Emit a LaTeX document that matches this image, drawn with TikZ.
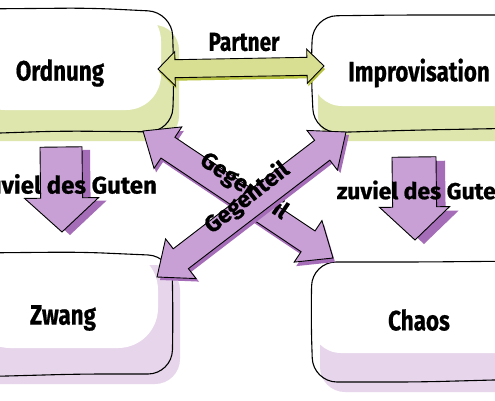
\documentclass[tikz,border=0pt]{standalone}
\usepackage{fontspec}
\setmainfont{Fira Sans}[FakeStretch=0.8, BoldFeatures={FakeBold=0.6}]
\newfontfamily\widefont{Fira Sans}[BoldFeatures={FakeBold=0.8}]
\usetikzlibrary{calc}
\definecolor{lgreen}{HTML}{DEE6AE}
\definecolor{agreen}{HTML}{D9DF92}
\definecolor{dgreen}{HTML}{B7C23E}
\definecolor{lpurple}{HTML}{E6D5EB}
\definecolor{apurple}{HTML}{C8A0D5}
\definecolor{dpurple}{HTML}{A56DB8}
% #1 style, #2 start, #3 end, #4 shaft half, #5 head half, #6 head length, #7 offset
\newcommand\SglArrow[7]{%
  \coordinate (da) at ($(#2)+(#7)$);
  \coordinate (db) at ($(#3)+(#7)$);
  \coordinate (hb) at ($(db)!#6!(da)$);
  \path[#1] ($(da)!#4!90:(db)$) -- ($(hb)!#4!90:(db)$) -- ($(hb)!#5!90:(db)$) -- (db)
    -- ($(hb)!#5!-90:(db)$) -- ($(hb)!#4!-90:(db)$) -- ($(da)!#4!-90:(db)$) -- cycle;
}
\newcommand\DblArrow[7]{%
  \coordinate (da) at ($(#2)+(#7)$);
  \coordinate (db) at ($(#3)+(#7)$);
  \coordinate (ha) at ($(da)!#6!(db)$);
  \coordinate (hb) at ($(db)!#6!(da)$);
  \path[#1] ($(ha)!#4!90:(db)$) -- ($(hb)!#4!90:(db)$) -- ($(hb)!#5!90:(db)$) -- (db)
    -- ($(hb)!#5!-90:(db)$) -- ($(hb)!#4!-90:(db)$) -- ($(ha)!#4!-90:(db)$)
    -- ($(ha)!#5!-90:(db)$) -- (da) -- ($(ha)!#5!90:(db)$) -- cycle;
}
\begin{document}
\begin{tikzpicture}[x=1pt,y=-1pt,
  boxline/.style={draw=black, line width=1.1pt, rounded corners=24pt},
  arrline/.style={draw=black, line width=0.9pt, line join=miter},
  big/.style={font=\bfseries\fontsize{28}{30}\selectfont, inner sep=0pt},
  mid/.style={font=\bfseries\fontsize{26}{28}\selectfont, inner sep=0pt},
  wide/.style={font=\widefont\bfseries\fontsize{23}{25}\selectfont, inner sep=0pt}]
\useasboundingbox (0,0) rectangle (495,400);
\clip (0,0) rectangle (495,400);
\fill[white] (0,0) rectangle (495,400);
% ---------- boxes ----------
% Ordnung
\fill[lgreen, rounded corners=25pt] (-30,25) rectangle (179,141);
\fill[white, rounded corners=35pt] (-30,6) rectangle (161,110);
\draw[boxline] (-30,9) -- (90,8) -- (172,12) -- (174,80) -- (172,132) -- (60,131) -- (-30,134);
% Improvisation
\fill[lgreen, rounded corners=25pt] (318,25) rectangle (530,141);
\fill[white, rounded corners=30pt] (312,12) rectangle (530,106);
\draw[boxline] (530,15) -- (400,15) -- (313,16) -- (311,70) -- (314,133) -- (420,130) -- (530,128);
% Zwang
\fill[lpurple, rounded corners=25pt] (-30,265) rectangle (180,384);
\fill[white, rounded corners=40pt] (-30,250) rectangle (158,348);
\draw[boxline] (-30,253) -- (80,252) -- (172,256) -- (173,320) -- (172,374) -- (80,374) -- (-30,377);
% Chaos
\fill[lpurple, rounded corners=25pt] (320,270) rectangle (530,392);
\fill[white, rounded corners=30pt] (311,258) rectangle (530,353);
\draw[boxline] (530,261) -- (420,262) -- (312,262) -- (311,320) -- (313,382) -- (420,382) -- (530,379);
% ---------- named anchors ----------
\coordinate (ordA) at (61,147);  \coordinate (zwA) at (62,232);
\coordinate (impA) at (414,157); \coordinate (chA) at (415,240);
\coordinate (ordP) at (158,69);  \coordinate (impP) at (324,66);
\coordinate (ordG) at (143,131); \coordinate (chG) at (333,258);
\coordinate (zwG) at (157,277);  \coordinate (impG) at (346,132);
% ---------- zuviel arrows ----------
\SglArrow{fill=dpurple}{ordA}{zwA}{21pt}{37pt}{34pt}{8,3}
\SglArrow{fill=apurple, arrline}{ordA}{zwA}{21pt}{37pt}{34pt}{0,0}
\SglArrow{fill=dpurple}{impA}{chA}{22pt}{35pt}{33pt}{9,4}
\SglArrow{fill=apurple, arrline}{impA}{chA}{22pt}{35pt}{33pt}{0,0}
% ---------- partner arrow ----------
\DblArrow{fill=dgreen}{ordP}{impP}{9pt}{17pt}{17pt}{1,3}
\DblArrow{fill=agreen, arrline}{ordP}{impP}{9pt}{17pt}{17pt}{0,0}
% ---------- Gegenteil arrows ----------
\DblArrow{fill=dpurple}{ordG}{chG}{12.5pt}{25pt}{30pt}{2,4}
\DblArrow{fill=apurple, arrline}{ordG}{chG}{12.5pt}{25pt}{30pt}{0,0}
\node[wide, rotate=-34] (g1) at (244,186) {Gegenteil};
\DblArrow{fill=dpurple}{zwG}{impG}{12.5pt}{25pt}{30pt}{3,3}
\DblArrow{fill=apurple, arrline}{zwG}{impG}{12.5pt}{25pt}{30pt}{0,0}
\node[wide, rotate=38] (g2) at (247,198) {Gegenteil};
% ---------- labels ----------
\node[big] (ord) at (60,73) {Ordnung};
\node[big] (imp) at (419,73) {Improvisation};
\node[big] (zw) at (63,318) {Zwang};
\node[big] (ch) at (419,320) {Chaos};
\node[mid] (pt) at (244,42) {Partner};
\node[wide, font=\widefont\bfseries\fontsize{24}{26}\selectfont] (z1) at (67,184) {zuviel des Guten};
\node[wide] (z2) at (423,190) {zuviel des Guten};
\end{tikzpicture}
\end{document}
